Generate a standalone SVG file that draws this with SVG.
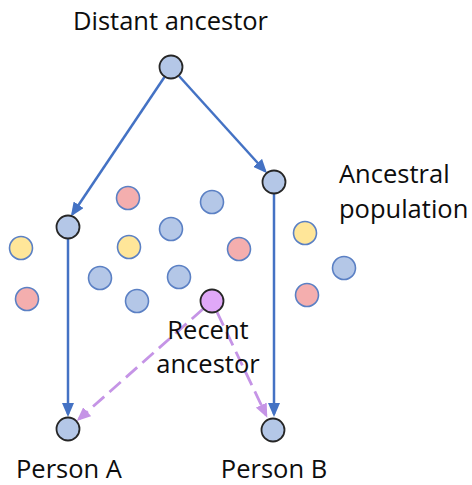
<svg xmlns="http://www.w3.org/2000/svg" width="472" height="485" viewBox="0 0 472 485">
<style>
text{font-family:"Open Sans","Noto Sans","Liberation Sans",sans-serif;font-size:25.5px;fill:#0d0d0d}
.key{fill:#B4C7E7;stroke:#262626;stroke-width:1.8}
.rec{fill:#E0A8F8;stroke:#262626;stroke-width:1.8}
.pb{fill:#B4C7E7;stroke:#5B80C4;stroke-width:1.6}
.pr{fill:#F4AEAE;stroke:#5B80C4;stroke-width:1.6}
.py{fill:#FFE699;stroke:#5B80C4;stroke-width:1.6}
.blue{stroke:#4472C4;stroke-width:2.5;fill:none;marker-end:url(#ab)}
.purp{stroke:#C594E6;stroke-width:2.8;fill:none;stroke-dasharray:15 7;marker-end:url(#ap)}
</style>
<defs>
<marker id="ab" markerUnits="userSpaceOnUse" markerWidth="14" markerHeight="12" refX="11" refY="6" orient="auto"><path d="M0,0 L14,6 L0,12 z" fill="#4472C4"/></marker>
<marker id="ap" markerUnits="userSpaceOnUse" markerWidth="14" markerHeight="12" refX="11" refY="6" orient="auto"><path d="M0,0 L14,6 L0,12 z" fill="#C594E6"/></marker>
</defs>
<g id="connectors">
<line class="blue" x1="164.5" y1="77" x2="72.5" y2="214"/>
<line class="blue" x1="179" y1="76" x2="265" y2="171"/>
<line class="blue" x1="68" y1="239" x2="68" y2="414"/>
<line class="blue" x1="274" y1="194" x2="274" y2="414"/>
<line class="purp" x1="203" y1="309" x2="79" y2="419"/>
<line class="purp" x1="217" y1="312" x2="266" y2="415"/>
</g>
<g id="population">
<g id="p1"><circle class="pr" cx="128" cy="198" r="11.5"/></g>
<g id="p2"><circle class="pb" cx="212" cy="202" r="11.5"/></g>
<g id="p3"><circle class="pb" cx="171" cy="229" r="11.5"/></g>
<g id="p4"><circle class="py" cx="21" cy="248" r="11.5"/></g>
<g id="p5"><circle class="py" cx="129" cy="247" r="11.5"/></g>
<g id="p6"><circle class="pr" cx="239" cy="249" r="11.5"/></g>
<g id="p7"><circle class="py" cx="305" cy="233" r="11.5"/></g>
<g id="p8"><circle class="pr" cx="27" cy="299" r="11.5"/></g>
<g id="p9"><circle class="pb" cx="100" cy="278" r="11.5"/></g>
<g id="p10"><circle class="pb" cx="137" cy="301" r="11.5"/></g>
<g id="p11"><circle class="pb" cx="179" cy="277" r="11.5"/></g>
<g id="p12"><circle class="pr" cx="307" cy="295" r="11.5"/></g>
<g id="p13"><circle class="pb" cx="344" cy="268" r="11.5"/></g>
</g>
<g id="distant"><circle class="key" cx="171" cy="67" r="11.5"/><text x="170.5" y="29.5" text-anchor="middle">Distant ancestor</text></g>
<g id="left-lineage"><circle class="key" cx="68" cy="227" r="11.5"/></g>
<g id="right-lineage"><circle class="key" cx="274" cy="182" r="11.5"/></g>
<g id="ancestral-label"><text x="339" y="183">Ancestral</text><text x="339" y="218">population</text></g>
<g id="recent"><circle class="rec" cx="212" cy="301" r="11.5"/><text x="208" y="339" text-anchor="middle">Recent</text><text x="208" y="373" text-anchor="middle">ancestor</text></g>
<g id="personA"><circle class="key" cx="68" cy="429" r="11.5"/><text x="69" y="477.5" text-anchor="middle">Person A</text></g>
<g id="personB"><circle class="key" cx="273" cy="430" r="11.5"/><text x="274" y="477.5" text-anchor="middle">Person B</text></g>
</svg>
